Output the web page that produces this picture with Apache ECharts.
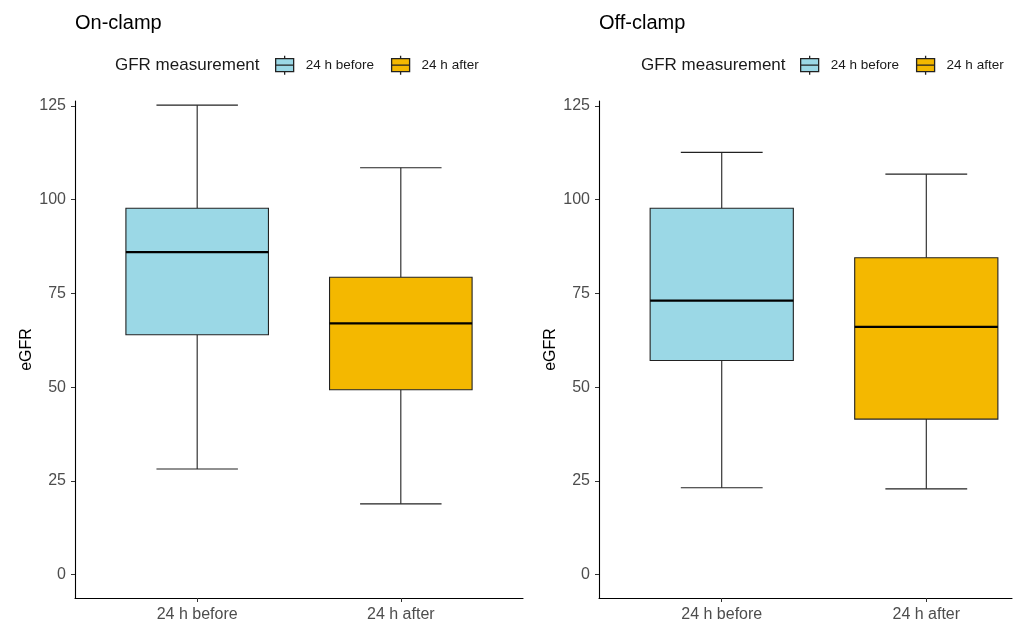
<!DOCTYPE html>
<html>
<head>
<meta charset="utf-8">
<style>
  html, body { margin: 0; padding: 0; background: #ffffff; }
  #chart { width: 1014px; height: 623px; }
</style>
<script src="https://cdn.jsdelivr.net/npm/echarts@6/dist/echarts.min.js"></script>
</head>
<body>
<div id="chart"></div>
<script>
// Box statistics per group: [lower whisker, Q1, median, Q3, upper whisker]
const categories = ['24 h before', '24 h after'];
const panelTitles = ['On-clamp', 'Off-clamp'];
const onClampBefore = [28.2, 64.0, 86.0, 97.7, 125.2];
const onClampAfter = [18.9, 49.3, 67.0, 79.3, 108.5];
const offClampBefore = [23.2, 57.1, 73.1, 97.7, 112.6];
const offClampAfter = [22.9, 41.5, 66.1, 84.5, 106.8];
const yTicks = [0, 25, 50, 75, 100, 125];
const fillColors = ['#9BD8E6', '#F4B800'];

const FONT = '"Liberation Sans", Arial, sans-serif';
const BOX_HALF = 0.35;   // box half-width in category units
const CAP_HALF = 0.2;    // whisker cap half-width

function boxRender(params, api) {
  const x = api.value(0);
  const low = api.value(1), q1 = api.value(2), med = api.value(3), q3 = api.value(4), high = api.value(5);
  const fill = api.visual('color');
  const pTop = api.coord([x, high]);
  const pQ3 = api.coord([x, q3]);
  const pQ1 = api.coord([x, q1]);
  const pLow = api.coord([x, low]);
  const l = api.coord([x - BOX_HALF, q3])[0];
  const r = api.coord([x + BOX_HALF, q3])[0];
  const cl = api.coord([x - CAP_HALF, q3])[0];
  const cr = api.coord([x + CAP_HALF, q3])[0];
  const pMed = api.coord([x, med]);
  const lineStyle = { stroke: '#222', lineWidth: 1.1 };
  return {
    type: 'group',
    children: [
      { type: 'line', shape: { x1: pTop[0], y1: pTop[1], x2: pQ3[0], y2: pQ3[1] }, style: lineStyle },
      { type: 'line', shape: { x1: pQ1[0], y1: pQ1[1], x2: pLow[0], y2: pLow[1] }, style: lineStyle },
      { type: 'line', shape: { x1: cl, y1: pTop[1], x2: cr, y2: pTop[1] }, style: lineStyle },
      { type: 'line', shape: { x1: cl, y1: pLow[1], x2: cr, y2: pLow[1] }, style: lineStyle },
      { type: 'rect', shape: { x: l, y: pQ3[1], width: r - l, height: pQ1[1] - pQ3[1] },
        style: { fill: fill, stroke: '#222', lineWidth: 1.1 } },
      { type: 'line', shape: { x1: l, y1: pMed[1], x2: r, y2: pMed[1] },
        style: { stroke: '#000', lineWidth: 2.2 } }
    ]
  };
}

// Legend key: box with median line and short whisker stubs
const legendIcon = 'path://M0,3H18V16H0Z M0,9.5H18 M9,0V3 M9,16V19';

function xAxisFor(idx, max) {
  return {
    type: 'value', gridIndex: idx, min: 0.4, max: max,
    axisLine: { show: true, onZero: false, lineStyle: { color: '#000', width: 1.1 } },
    axisTick: { show: true, length: 4, customValues: [1, 2], lineStyle: { color: '#333' } },
    axisLabel: {
      customValues: [1, 2], margin: 9, color: '#4d4d4d', fontSize: 16, fontFamily: FONT,
      formatter: v => categories[Math.round(v) - 1]
    },
    splitLine: { show: false }
  };
}

function yAxisFor(idx) {
  return {
    type: 'value', gridIndex: idx, min: -6.2, max: 126.3,
    name: 'eGFR', nameLocation: 'middle', nameGap: 40, nameRotate: 90,
    nameTextStyle: { color: '#000', fontSize: 16, fontFamily: FONT },
    axisLine: { show: true, onZero: false, lineStyle: { color: '#000', width: 1.1 } },
    axisTick: { show: true, length: 4, customValues: yTicks, lineStyle: { color: '#333' } },
    axisLabel: { customValues: yTicks, margin: 9, color: '#4d4d4d', fontSize: 16, fontFamily: FONT },
    splitLine: { show: false }
  };
}

function legendFor(left) {
  return {
    left: left, top: 55, orient: 'horizontal', padding: 0,
    itemWidth: 18, itemHeight: 19, itemGap: 17,
    icon: legendIcon,
    textStyle: { color: '#1a1a1a', fontSize: 13.5, fontFamily: FONT, padding: [0, 0, 0, 7] },
    itemStyle: { borderColor: '#222', borderWidth: 1.3 },
    data: categories.map((c, i) => ({ name: c, itemStyle: { color: fillColors[i] } })),
    selectedMode: false
  };
}

function boxSeries(name, stats, xIndex, gridIdx, colorIdx) {
  return {
    type: 'custom', name: name,
    xAxisIndex: gridIdx, yAxisIndex: gridIdx,
    itemStyle: { color: fillColors[colorIdx] },
    encode: { x: 0, y: [1, 2, 3, 4, 5] },
    data: [[xIndex].concat(stats)],
    renderItem: boxRender,
    clip: false
  };
}

const titleStyle = { color: '#000', fontSize: 20, fontWeight: 'normal', fontFamily: FONT };
const legendTitleStyle = { color: '#1a1a1a', fontSize: 17, fontWeight: 'normal', fontFamily: FONT };

const chart = echarts.init(document.getElementById('chart'), null, { renderer: 'canvas' });
chart.setOption({
  backgroundColor: '#ffffff',
  animation: false,
  title: [
    { text: panelTitles[0], left: 75, top: 13, padding: 0, textStyle: titleStyle },
    { text: panelTitles[1], left: 599, top: 13, padding: 0, textStyle: titleStyle },
    { text: 'GFR measurement', left: 115, top: 57, padding: 0, textStyle: legendTitleStyle },
    { text: 'GFR measurement', left: 641, top: 57, padding: 0, textStyle: legendTitleStyle }
  ],
  legend: [legendFor(275), legendFor(800)],
  grid: [
    { left: 75, top: 101, width: 448, height: 497, containLabel: false },
    { left: 599, top: 101, width: 413, height: 497, containLabel: false }
  ],
  xAxis: [xAxisFor(0, 2.6), xAxisFor(1, 2.419)],
  yAxis: [yAxisFor(0), yAxisFor(1)],
  series: [
    boxSeries(categories[0], onClampBefore, 1, 0, 0),
    boxSeries(categories[1], onClampAfter, 2, 0, 1),
    boxSeries(categories[0], offClampBefore, 1, 1, 0),
    boxSeries(categories[1], offClampAfter, 2, 1, 1)
  ]
});
</script>
</body>
</html>
